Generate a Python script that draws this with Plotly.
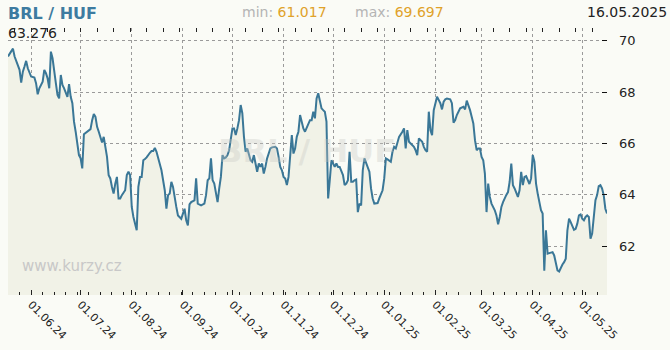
import plotly.graph_objects as go

# ---- data (BRL/HUF daily rate) ----
may24_days = [18, 20, 21, 22, 23, 24, 25, 26, 27, 28, 29, 30, 31]
may24_vals = [69.39, 69.60, 69.697, 69.39, 69.19, 69.04, 68.87, 68.37, 68.80, 69.00, 69.22, 68.93, 68.74]

jun24_days = [1, 3, 4, 5, 6, 8, 9, 10, 11, 12, 13, 14, 15, 16, 17, 18, 19, 20, 21, 22, 23, 24, 25, 26, 27, 28, 29, 30]
jun24_vals = [68.61, 68.57, 68.35, 67.92, 68.15, 68.41, 68.87, 68.74, 68.54, 68.15, 69.58, 69.32, 68.74, 68.35,
              67.89, 67.76, 68.67, 68.28, 68.15, 67.96, 67.82, 68.31, 67.82, 67.57, 66.85, 66.46, 66.00, 65.55]

jul24_days = [1, 2, 3, 5, 7, 8, 9, 10, 11, 12, 13, 14, 15, 16, 17, 18, 19, 20, 21, 22, 23, 24, 25, 26, 28, 29, 30, 31]
jul24_vals = [65.42, 65.03, 66.36, 66.46, 66.56, 66.91, 67.15, 67.04, 66.65, 66.46, 66.26, 66.04, 66.26, 65.94,
              65.48, 64.77, 64.64, 64.31, 64.05, 64.44, 64.70, 63.86, 63.86, 63.99, 64.18, 64.77, 64.90, 64.77]

aug24_days = [1, 2, 3, 4, 5, 6, 7, 8, 9, 10, 12, 13, 14, 15, 16, 17, 18, 19, 20, 21, 22, 23, 24, 25, 26, 27, 28, 29, 30, 31]
aug24_vals = [63.53, 63.14, 62.81, 62.62, 64.31, 64.70, 64.70, 65.35, 65.40, 65.46, 65.64, 65.71, 65.71, 65.83,
              65.68, 65.42, 65.16, 64.96, 64.57, 64.18, 63.46, 63.99, 64.05, 64.51, 64.31, 63.99, 63.53, 63.20,
              63.11, 63.07]

sep24_days = [1, 2, 3, 4, 5, 6, 8, 9, 10, 12, 14, 15, 16, 17, 18, 19, 20, 21, 22, 23, 24, 25, 26, 27, 28, 29, 30]
sep24_vals = [63.27, 63.46, 63.01, 62.81, 63.63, 63.72, 63.79, 64.64, 63.66, 63.59, 63.66, 63.99, 64.57, 64.64,
              65.42, 64.57, 64.44, 63.99, 63.72, 64.25, 64.70, 65.55, 65.42, 65.46, 65.55, 65.74, 66.20]

oct24_days = [1, 2, 3, 4, 5, 6, 7, 8, 9, 10, 11, 12, 13, 14, 15, 16, 17, 18, 19, 20, 21, 22, 24, 25, 27, 28, 29, 30, 31]
oct24_vals = [66.59, 66.59, 66.33, 66.59, 66.91, 67.50, 67.18, 66.26, 65.68, 65.81, 65.55, 65.35, 65.29, 65.55,
              65.22, 64.90, 65.22, 65.09, 65.22, 64.83, 65.09, 65.42, 65.81, 65.85, 65.87, 65.81, 65.48, 65.09, 64.96]

nov24_days = [1, 2, 3, 4, 5, 6, 7, 8, 9, 10, 11, 12, 13, 14, 16, 17, 18, 19, 20, 21, 22, 23, 24, 25, 26, 27, 28, 29, 30]
nov24_vals = [64.70, 64.64, 64.38, 64.70, 65.48, 66.33, 65.61, 65.81, 66.26, 66.46, 67.11, 66.78, 66.59, 66.46,
              66.78, 66.91, 66.91, 67.24, 66.98, 67.76, 67.96, 67.63, 67.37, 67.30, 67.24, 66.85, 63.86, 64.57, 65.35]

dec24_days = list(range(1, 32))
dec24_vals = [65.22, 65.09, 65.22, 65.09, 65.09, 64.96, 64.77, 64.38, 64.44, 64.57, 65.68, 64.51, 64.51, 64.57,
              64.60, 63.33, 63.66, 63.59, 64.96, 65.42, 65.22, 65.09, 64.90, 64.25, 63.86, 63.66, 63.66, 63.68,
              63.86, 64.05, 64.18]

jan25_days = [1, 2, 3, 4, 5, 6, 7, 8, 9, 10, 12, 13, 14, 15, 16, 17, 19, 20, 21, 22, 23, 24, 25, 26, 27, 28, 29, 30, 31]
jan25_vals = [64.64, 65.42, 65.38, 65.35, 65.29, 65.68, 65.87, 65.81, 66.00, 66.26, 66.46, 66.59, 65.81, 66.52,
              66.07, 66.00, 65.87, 65.74, 65.55, 66.20, 66.13, 66.07, 65.87, 65.74, 65.68, 67.24, 66.52, 66.33, 67.30]

feb25_days = [1, 2, 3, 4, 5, 6, 7, 8, 10, 11, 12, 13, 14, 15, 16, 18, 19, 20, 21, 22, 23, 24, 25, 26, 27, 28]
feb25_vals = [67.57, 67.82, 67.70, 67.57, 67.33, 67.63, 67.72, 67.75, 67.72, 67.57, 66.81, 66.91, 67.11, 67.24,
              67.37, 67.43, 67.33, 67.67, 67.50, 67.30, 67.04, 66.78, 66.13, 65.74, 65.81, 65.81]

mar25_days = list(range(1, 32))
mar25_vals = [65.48, 65.35, 64.83, 63.33, 64.44, 63.92, 63.66, 63.53, 63.40, 63.20, 62.85, 63.14, 63.53, 63.72,
              63.90, 64.00, 64.11, 64.51, 65.22, 64.38, 64.25, 64.11, 63.92, 64.18, 64.90, 64.38, 64.70, 64.73,
              64.60, 64.42, 64.64]

apr25_days = list(range(1, 31))
apr25_vals = [65.55, 65.29, 64.44, 64.05, 63.66, 63.40, 63.27, 61.05, 62.62, 61.71, 61.73, 61.75, 61.77, 61.64,
              61.32, 61.06, 61.017, 61.18, 61.29, 61.38, 61.51, 62.62, 63.07, 62.94, 62.81, 62.64, 62.68, 62.88,
              63.20, 63.24]

may25_days = list(range(1, 17))
may25_vals = [63.07, 63.01, 63.14, 63.20, 63.14, 62.29, 62.49, 63.27, 63.79, 63.99, 64.34, 64.38, 64.25, 63.99,
              63.46, 63.276]

months = [
    ("2024-05", may24_days, may24_vals), ("2024-06", jun24_days, jun24_vals),
    ("2024-07", jul24_days, jul24_vals), ("2024-08", aug24_days, aug24_vals),
    ("2024-09", sep24_days, sep24_vals), ("2024-10", oct24_days, oct24_vals),
    ("2024-11", nov24_days, nov24_vals), ("2024-12", dec24_days, dec24_vals),
    ("2025-01", jan25_days, jan25_vals), ("2025-02", feb25_days, feb25_vals),
    ("2025-03", mar25_days, mar25_vals), ("2025-04", apr25_days, apr25_vals),
    ("2025-05", may25_days, may25_vals),
]

pair_label = "BRL / HUF"
last_value = "63.276"
min_value = "61.017"
max_value = "69.697"
last_date = "16.05.2025"
y_ticks = [62, 64, 66, 68, 70]

dates, rates = [], []
for ym, ds, vs in months:
    for d, v in zip(ds, vs):
        dates.append(f"{ym}-{d:02d}")
        rates.append(v)

# ---- styling ----
PAPER = "#fafbf6"
FILL = "#f1f2e7"
LINE = "#3a7797"
GRID = "#9a9a9a"
FONT = "DejaVu Sans"

W, H = 670, 350
ML, MR, MT, MB = 8, 63, 28, 55
PW, PH = W - ML - MR, H - MT - MB

fig = go.Figure()
fig.add_trace(go.Scatter(
    x=dates, y=rates, mode="lines",
    line=dict(color=LINE, width=2),
    fill="tozeroy", fillcolor=FILL,
    hoverinfo="skip", showlegend=False,
))
# invisible trace on the top axis to carry its ticks
fig.add_trace(go.Scatter(x=[dates[0], dates[-1]], y=[None, None], xaxis="x2",
                         showlegend=False, hoverinfo="skip"))

fig.update_layout(
    width=W, height=H,
    margin=dict(l=ML, r=MR, t=MT, b=MB, autoexpand=False),
    paper_bgcolor=PAPER, plot_bgcolor=PAPER,
    font=dict(family=FONT, color="#222222"),
    xaxis=dict(
        range=[dates[0], dates[-1]], automargin=False,
        showgrid=True, gridcolor=GRID, griddash="dot", gridwidth=1,
        tick0="2024-06-01", dtick="M1", tickformat="%d.%m.%y",
        tickangle=45, tickfont=dict(size=11, color="#222222"),
        ticks="inside", ticklen=5, tickcolor="#222222",
        minor=dict(dtick=7 * 86400000, tick0="2024-06-01", ticks="inside", ticklen=3,
                   tickcolor="#222222", showgrid=False),
        showline=False, zeroline=False,
    ),
    xaxis2=dict(
        overlaying="x", side="top", matches="x", automargin=False,
        showgrid=False, showticklabels=False,
        tick0="2024-06-01", dtick=10 * 86400000,
        ticks="inside", ticklen=4, tickcolor="#222222",
        showline=False, zeroline=False,
    ),
    yaxis=dict(
        range=[60.1, 70.5], side="right", automargin=False,
        tickvals=y_ticks, ticktext=[str(t) for t in y_ticks],
        showgrid=True, gridcolor=GRID, griddash="dot", gridwidth=1,
        ticks="inside", ticklen=5, tickcolor="#111111",
        tickfont=dict(size=13, color="#222222"),
        ticklabelstandoff=11,
        showline=False, zeroline=False,
    ),
)

# annotation anchor points in window pixels
annotations = [
    dict(text=f"<b>{pair_label}</b>", x=7, y=3, font=dict(size=16, color="#3d7ba0"),
         xanchor="left", yanchor="top"),
    dict(text=last_value, x=7, y=24, font=dict(size=14, color="#222222"),
         xanchor="left", yanchor="top"),
    dict(text=f"<span style='color:#b4b4b4'>min:</span> <span style='color:#e0a22a'>{min_value}</span>",
         x=241, y=3, font=dict(size=14), xanchor="left", yanchor="top"),
    dict(text=f"<span style='color:#b4b4b4'>max:</span> <span style='color:#e0a22a'>{max_value}</span>",
         x=354, y=3, font=dict(size=14), xanchor="left", yanchor="top"),
    dict(text=last_date, x=668, y=3, font=dict(size=14, color="#222222"),
         xanchor="right", yanchor="top"),
    dict(text="www.kurzy.cz", x=21, y=256, font=dict(size=15, color="#c8c8c8"),
         xanchor="left", yanchor="top"),
    dict(text=f"<b>{pair_label}</b>", x=307, y=151, font=dict(size=32, color="rgba(200,200,195,0.35)"),
         xanchor="center", yanchor="middle"),
]
for a in annotations:
    px, py = a.pop("x"), a.pop("y")
    fig.add_annotation(
        xref="paper", yref="paper",
        x=(px - ML) / PW, y=1 - (py - MT) / PH,
        showarrow=False, borderpad=0, **a,
    )

# the page's default body margin would shift the figure by 8px; remove it
fig.write_html("out.html", config={"displayModeBar": False},
               post_script="document.body.style.margin='0';")
